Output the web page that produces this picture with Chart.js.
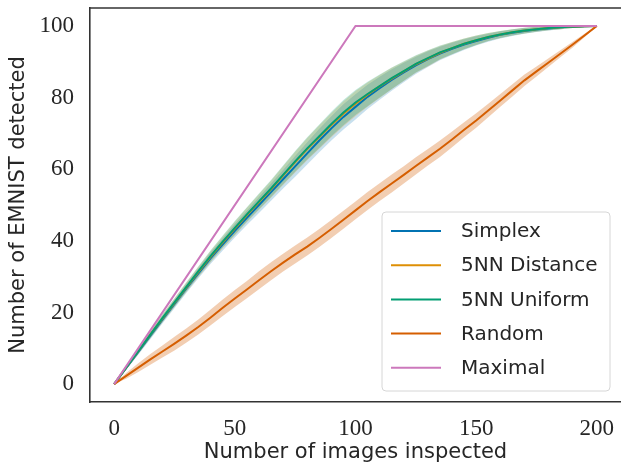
<!DOCTYPE html>
<html>
<head>
<meta charset="utf-8">
<script src="https://cdn.jsdelivr.net/npm/chart.js@4/dist/chart.umd.min.js"></script>
<style>
html,body{margin:0;padding:0;background:#fff;overflow:hidden;}
canvas{display:block;}
</style>
</head>
<body>
<canvas id="c" width="621" height="467"></canvas>
<script>
// ---- data ----
const imagesInspected = [0,5,10,15,20,25,30,35,40,45,50,55,60,65,70,75,80,85,90,95,100,105,110,115,120,125,130,135,140,145,150,155,160,165,170,175,180,185,190,195,200];
const simplex      = [0,4.5,9.0,13.5,18.0,22.4,26.8,31.0,35.2,39.0,42.8,46.4,50.0,53.6,57.2,60.8,64.4,68.0,71.4,74.6,77.4,80.2,82.6,84.9,87.0,89.0,90.7,92.3,93.6,94.8,95.8,96.7,97.5,98.1,98.6,99.0,99.3,99.6,99.8,99.9,100];
const nnDistance   = [0,4.6,9.2,13.8,18.3,22.7,27.1,31.4,35.6,39.6,43.4,47.2,50.8,54.4,58.2,62.0,65.6,69.0,72.3,75.5,78.3,80.8,83.1,85.3,87.3,89.3,90.9,92.5,93.8,95.0,96.0,96.9,97.6,98.2,98.7,99.1,99.4,99.6,99.8,99.9,100];
const nnUniform    = [0,4.6,9.2,13.8,18.4,22.8,27.2,31.6,35.8,39.8,43.6,47.4,51.0,54.6,58.4,62.2,65.8,69.2,72.6,75.8,78.6,81.0,83.2,85.4,87.4,89.4,91.0,92.6,93.8,95.0,96.0,96.9,97.6,98.2,98.7,99.1,99.4,99.6,99.8,99.9,100];
const randomPick   = [0,2.3,4.6,6.9,9.1,11.3,13.6,16.0,18.6,21.3,23.9,26.4,29.0,31.5,33.9,36.2,38.4,40.8,43.3,45.9,48.5,51.1,53.6,56.0,58.4,60.9,63.3,65.7,68.3,71.0,73.6,76.4,79.2,82.0,84.8,87.3,89.8,92.3,94.8,97.4,100];
const maximalX     = [0,100,200];
const maximalY     = [0,100,100];
const methodSpread = [0,0.5,0.8,1.0,1.1,1.2,1.3,1.4,1.6,1.7,1.9,2.0,2.2,2.4,2.6,2.9,3.1,3.3,3.4,3.5,3.5,3.4,3.2,3.0,2.7,2.4,2.2,1.9,1.7,1.5,1.3,1.1,1.0,0.9,0.8,0.7,0.6,0.5,0.4,0.2,0];
const randomSpread = [0,0.8,1.2,1.5,1.7,1.9,2.0,2.1,2.2,2.3,2.4,2.4,2.5,2.5,2.5,2.5,2.5,2.5,2.5,2.5,2.5,2.5,2.5,2.5,2.4,2.4,2.3,2.3,2.2,2.1,2.0,1.9,1.8,1.7,1.6,1.4,1.2,1.0,0.8,0.5,0];
const xTickValues = [0,50,100,150,200];
const yTickValues = [0,20,40,60,80,100];
const seriesNames = ['Simplex','5NN Distance','5NN Uniform','Random','Maximal'];
const seriesColors = ['#0173b2','#de8f05','#029e73','#d55e00','#cc78bc'];

// ---- build datasets ----
const pts = (xs, ys, off) => xs.map((x,i)=>({x, y: ys[i] + (off ? off[i] : 0)}));
const neg = a => a.map(v=>-v);
function rgba(hex,a){const n=parseInt(hex.slice(1),16);return `rgba(${n>>16},${(n>>8)&255},${n&255},${a})`;}

const datasets = [];
function band(ys, spread, color, alpha, order){
  datasets.push({data: pts(imagesInspected, ys, spread), borderWidth:0, pointRadius:0, fill:false, order, isBand:true});
  datasets.push({data: pts(imagesInspected, ys, neg(spread)), borderWidth:0, pointRadius:0, fill:'-1', backgroundColor: rgba(color,alpha), order, isBand:true});
}
band(simplex, methodSpread, seriesColors[0], 0.22, 20);
band(nnDistance, methodSpread, seriesColors[1], 0.22, 19);
band(nnUniform, methodSpread, seriesColors[2], 0.25, 18);
band(randomPick, randomSpread, seriesColors[3], 0.3, 17);
const lines = [simplex, nnDistance, nnUniform, randomPick];
lines.forEach((ys,i)=>{
  datasets.push({label: seriesNames[i], data: pts(imagesInspected, ys), borderColor: seriesColors[i], borderWidth:2, pointRadius:0, fill:false, order: 10 - i});
});
datasets.push({label: seriesNames[4], data: pts(maximalX, maximalY), borderColor: seriesColors[4], borderWidth:2, pointRadius:0, fill:false, order: 5});

const topSpine = {
  id:'topSpine',
  afterDraw(chart){
    const {ctx, chartArea:a} = chart;
    ctx.save();
    ctx.strokeStyle = '#333'; ctx.lineWidth = 1.6;
    ctx.beginPath(); ctx.moveTo(a.left, a.top); ctx.lineTo(a.right, a.top); ctx.stroke();
    ctx.restore();
  }
};
const boxLegend = {
  id:'boxLegend',
  afterDraw(chart){
    const ctx = chart.ctx;
    const items = chart.data.datasets.filter(d=>!d.isBand);
    ctx.save();
    const x0=382, y0=212, w=228, h=179, r=4;
    ctx.beginPath();
    ctx.moveTo(x0+r,y0); ctx.arcTo(x0+w,y0,x0+w,y0+h,r); ctx.arcTo(x0+w,y0+h,x0,y0+h,r);
    ctx.arcTo(x0,y0+h,x0,y0,r); ctx.arcTo(x0,y0,x0+w,y0,r); ctx.closePath();
    ctx.fillStyle='rgba(255,255,255,0.8)'; ctx.fill();
    ctx.strokeStyle='#d6d6d6'; ctx.lineWidth=1; ctx.stroke();
    ctx.font = '20px "DejaVu Sans"';
    ctx.textBaseline='middle';
    items.forEach((d,i)=>{
      const y = 231 + i*34.2;
      ctx.strokeStyle = d.borderColor; ctx.lineWidth=2;
      ctx.beginPath(); ctx.moveTo(391,y); ctx.lineTo(441,y); ctx.stroke();
      ctx.fillStyle='#262626';
      ctx.fillText(d.label, 461, y+1);
    });
    ctx.restore();
  }
};
const noPad = s => { s.paddingTop = 0; s.paddingBottom = 0; s.paddingLeft = 0; s.paddingRight = 0; };

new Chart(document.getElementById('c'), {
  type:'line',
  data:{datasets},
  options:{
    responsive:false, animation:false, devicePixelRatio:1,
    layout:{padding:{top:8,right:0,left:0,bottom:0}, autoPadding:false},
    plugins:{legend:{display:false}, tooltip:{enabled:false}},
    scales:{
      x:{type:'linear', min:-10, max:210,
        afterBuildTicks: s=>{s.ticks = xTickValues.map(v=>({value:v}));},
        afterFit: s=>{s.height = 65; noPad(s);},
        grid:{display:false, drawTicks:false},
        border:{display:true, color:'#333', width:1.6},
        ticks:{padding:13, color:'#262626', font:{family:'"Liberation Serif"', size:23}, maxRotation:0, autoSkip:false},
        title:{display:true, text:'Number of images inspected', color:'#262626', font:{family:'"DejaVu Sans"', size:21}, padding:{top:0,bottom:2}}
      },
      y:{type:'linear', min:-5, max:105,
        afterBuildTicks: s=>{s.ticks = yTickValues.map(v=>({value:v}));},
        afterFit: s=>{s.width = 90; noPad(s);},
        grid:{display:false, drawTicks:false},
        border:{display:true, color:'#333', width:1.6},
        ticks:{padding:16, color:'#262626', font:{family:'"Liberation Serif"', size:23}, autoSkip:false},
        title:{display:true, text:'Number of EMNIST detected', color:'#262626', font:{family:'"DejaVu Sans"', size:21}, padding:{top:6,bottom:0}}
      }
    }
  },
  plugins:[topSpine, boxLegend]
});
</script>
</body>
</html>
